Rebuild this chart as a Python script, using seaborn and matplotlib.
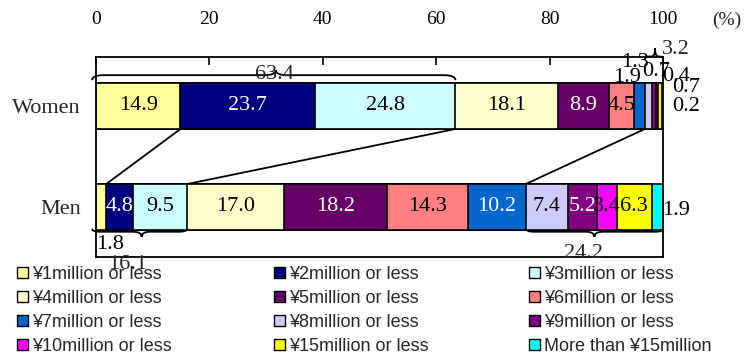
import numpy as np
import pandas as pd
import matplotlib
matplotlib.use("Agg")
import matplotlib.pyplot as plt
from matplotlib.path import Path
from matplotlib.patches import PathPatch, Patch
import seaborn as sns

# ---- data -------------------------------------------------------------
categories = [
    "¥1million or less", "¥2million or less", "¥3million or less",
    "¥4million or less", "¥5million or less", "¥6million or less",
    "¥7million or less", "¥8million or less", "¥9million or less",
    "¥10million or less", "¥15million or less", "More than ¥15million",
]
groups = ["Women", "Men"]
women = [14.9, 23.7, 24.8, 18.1, 8.9, 4.5, 1.9, 1.3, 0.7, 0.4, 0.7, 0.2]
men = [1.8, 4.8, 9.5, 17.0, 18.2, 14.3, 10.2, 7.4, 5.2, 3.4, 6.3, 1.9]
colors = [
    "#FFFF99", "#000080", "#CCFFFF", "#FFFFCC", "#660066", "#FF8080",
    "#0066CC", "#CCCCFF", "#800080", "#FF00FF", "#FFFF00", "#00FFFF",
]
light_label = [False, True, False, False, True, False,
               True, False, True, False, False, False]
x_ticks = [0, 20, 40, 60, 80, 100]

# subtotals shown with braces
women_low_total = 63.4
women_high_total = 3.2
men_low_total = 16.1
men_high_total = 24.2

# ---- styling ----------------------------------------------------------
sns.set_style("white")
plt.rcParams["font.family"] = ["Liberation Serif", "DejaVu Serif"]
NUM_FS = 16

W, H = 745, 360
fig = plt.figure(figsize=(W / 100, H / 100), dpi=100)
ax = fig.add_axes([96 / W, 1 - 257 / H, (663 - 96) / W, 200 / H])

rows = []
for g, vals in zip(groups, [women, men]):
    ends = np.cumsum(vals)
    for c, v, e in zip(categories, vals, ends):
        rows.append(dict(group=g, category=c, value=v, end=e))
df = pd.DataFrame(rows)

bar_h = 0.455
# stacked bars: draw cumulative totals from the longest down
for cat, col in reversed(list(zip(categories, colors))):
    sub = df[df["category"] == cat]
    sns.barplot(data=sub, x="end", y="group", order=groups, orient="h",
                color=col, saturation=1, width=bar_h, edgecolor="black",
                linewidth=1.2, errorbar=None, ax=ax)

ax.set_xlim(0, 100)
ax.set_ylim(1.495, -0.485)
ax.set_xlabel("")
ax.set_ylabel("")

ax.xaxis.tick_top()
ax.set_xticks(x_ticks)
ax.set_xticklabels([str(t) for t in x_ticks])
ax.tick_params(axis="x", direction="in", length=6, width=1.2, pad=21,
               labelsize=14, colors="black")
ax.tick_params(axis="y", which="major", length=0, pad=11, labelsize=16)
ax.set_yticks([0.5], minor=True)
ax.tick_params(axis="y", which="minor", direction="in", length=5, width=1.2)
for sp in ax.spines.values():
    sp.set_visible(True)
    sp.set_color("black")
    sp.set_linewidth(1.3)

# ---- segment labels ---------------------------------------------------
placed = {
    ("Women", 6): (93.7, -0.28),
    ("Women", 7): (95.0, -0.43),
    ("Women", 8): (98.8, -0.34),
    ("Women", 9): (102.3, -0.29),
    ("Women", 10): (104.1, -0.18),
    ("Women", 11): (104.1, 0.01),
    ("Men", 0): (2.5, 1.37),
    ("Men", 11): (102.3, 1.03),
}
for gi, (g, vals) in enumerate(zip(groups, [women, men])):
    ends = np.cumsum(vals)
    starts = ends - np.array(vals)
    for i, v in enumerate(vals):
        if (g, i) in placed:
            x, y = placed[(g, i)]
            col = "black"
        else:
            x, y = (starts[i] + ends[i]) / 2, gi
            col = "white" if light_label[i] else "black"
        ax.text(x, y, f"{v:.1f}", ha="center", va="center", fontsize=NUM_FS,
                color=col, clip_on=False, zorder=6)

# ---- connector lines between the bars ---------------------------------
wc, mc = np.cumsum(women), np.cumsum(men)
for i in (0, 2, 6):
    ax.plot([wc[i], mc[i]], [bar_h / 2, 1 - bar_h / 2], color="black",
            lw=1.3, zorder=5, clip_on=False)


# ---- braces -----------------------------------------------------------
def brace(x0, x1, xtip, y, d_end, d_tip, rx):
    verts = [
        (x0, y + d_end), (x0, y), (x0 + rx, y),
        (xtip - rx, y),
        (xtip, y), (xtip, y + d_tip),
        (xtip, y), (xtip + rx, y),
        (x1 - rx, y),
        (x1, y), (x1, y + d_end),
    ]
    codes = [Path.MOVETO, Path.CURVE3, Path.CURVE3, Path.LINETO,
             Path.CURVE3, Path.CURVE3, Path.CURVE3, Path.CURVE3,
             Path.LINETO, Path.CURVE3, Path.CURVE3]
    ax.add_patch(PathPatch(Path(verts, codes), facecolor="none",
                           edgecolor="black", lw=1.3, clip_on=False,
                           zorder=5))


brace(-0.7, wc[2], wc[2] / 2, -0.305, 0.05, -0.05, 2.0)
ax.text(wc[2] / 2 - 0.3, -0.31, f"{women_low_total:.1f}", ha="center",
        va="center", fontsize=NUM_FS, clip_on=False, zorder=6)

brace(wc[6], 100, 98.6, -0.49, 0.035, -0.08, 0.6)
ax.text(102.2, -0.56, f"{women_high_total:.1f}", ha="center", va="center",
        fontsize=NUM_FS, clip_on=False, zorder=6)

brace(-0.7, mc[2], mc[2] / 2, 1.245, -0.03, 0.05, 1.5)
ax.text(5.5, 1.565, f"{men_low_total:.1f}", ha="center", va="center",
        fontsize=NUM_FS, clip_on=False, zorder=6)

brace(mc[6], 100, (mc[6] + 100) / 2, 1.245, -0.03, 0.05, 1.5)
ax.text(86.0, 1.46, f"{men_high_total:.1f}", ha="center", va="center",
        fontsize=NUM_FS, clip_on=False, zorder=6)

fig.text(727 / W, 1 - 20 / H, "(%)", ha="center", va="center", fontsize=14)

# ---- legend: three columns, row-major order ---------------------------
col_x = [17, 274, 529]
for c in range(3):
    idx = list(range(c, len(categories), 3))
    handles = [Patch(facecolor=colors[i], edgecolor="black", lw=1)
               for i in idx]
    labels = [categories[i] for i in idx]
    fig.legend(handles, labels, loc="upper left",
               bbox_to_anchor=(col_x[c] / W, 1 - 266 / H),
               frameon=False, prop={"family": "Liberation Sans", "size": 13},
               handlelength=0.6, handleheight=0.6, handletextpad=0.25,
               labelspacing=0.39, borderpad=0, borderaxespad=0)

fig.savefig("out.png", dpi=100)
